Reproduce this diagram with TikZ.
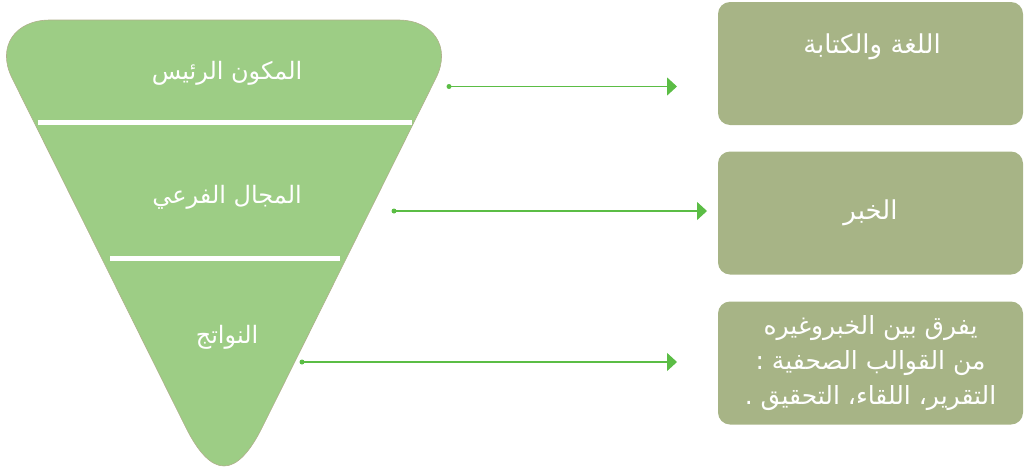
\documentclass[tikz,border=0pt]{standalone}
\usepackage{fontspec}
\setmainfont{DejaVu Sans}
\newfontfamily\arabicfont[Script=Arabic]{DejaVu Sans}
\TeXXeTstate=1
\usetikzlibrary{arrows.meta}
\definecolor{funnel}{HTML}{9DCD85}
\definecolor{funnelborder}{HTML}{B0B08C}
\definecolor{boxfill}{HTML}{A7B486}
\definecolor{arrowgreen}{HTML}{5BBD45}
\begin{document}
\begin{tikzpicture}[x=1pt,y=-1pt,
  lbl/.style={text=white,font=\arabicfont\fontsize{24}{28}\selectfont,inner sep=0pt},
  boxlbl/.style={text=white,font=\arabicfont\fontsize{26}{30}\selectfont,inner sep=0pt},
  info/.style={fill=boxfill,rounded corners=12pt,minimum width=305pt,minimum height=123pt,inner sep=0pt},
  link/.style={draw=arrowgreen,line width=1.3pt,-{Triangle[length=10pt,width=18pt]}},
  dotmark/.style={fill=arrowgreen,circle,inner sep=0pt,minimum size=5pt}
]
\useasboundingbox (0,0) rectangle (1024,469);
% funnel
\path[fill=funnel,draw=funnelborder,line width=0.6pt]
  (50,20) .. controls (15,20) and (-3.6,46.6) .. (12,78)
  -- (185.6,427) .. controls (211.4,479) and (236.6,479) .. (262.4,427)
  -- (436,78) .. controls (451.6,46.6) and (433,20) .. (398,20) -- cycle;
\draw[white,line width=5pt] (37.7,122.5) -- (411.7,122.5);
\draw[white,line width=5pt] (110,258) -- (340,258);
\node[lbl] (main) at (227,73) {\beginR المكون الرئيس\endR};
\node[lbl] (sub) at (227,197) {\beginR المجال الفرعي\endR};
\node[lbl] (out) at (227,337) {\beginR النواتج\endR};
% boxes
\node[info] (b1) at (870.5,63.5) {};
\node[boxlbl] (t1) at (872,47) {\beginR اللغة والكتابة\endR};
\node[info,boxlbl,align=center] (b2) at (870.5,213) {\beginR الخبر\endR};
\node[info,boxlbl,align=center,font=\arabicfont\fontsize{25}{35}\selectfont] (b3) at (870.5,363)
  {\beginR يفرق بين الخبروغيره\endR\\ \beginR من القوالب الصحفية :\endR\\ \beginR التقرير، اللقاء، التحقيق .\endR};
% connectors
\node[dotmark] (s1) at (449,86.5) {};
\node[dotmark] (s2) at (394,211) {};
\node[dotmark] (s3) at (302,362) {};
\coordinate (e1) at (677,86.5);
\coordinate (e2) at (707,211);
\coordinate (e3) at (677,362);
\draw[link] (s1.center) -- (e1);
\draw[link] (s2.center) -- (e2);
\draw[link] (s3.center) -- (e3);
\end{tikzpicture}
\end{document}
